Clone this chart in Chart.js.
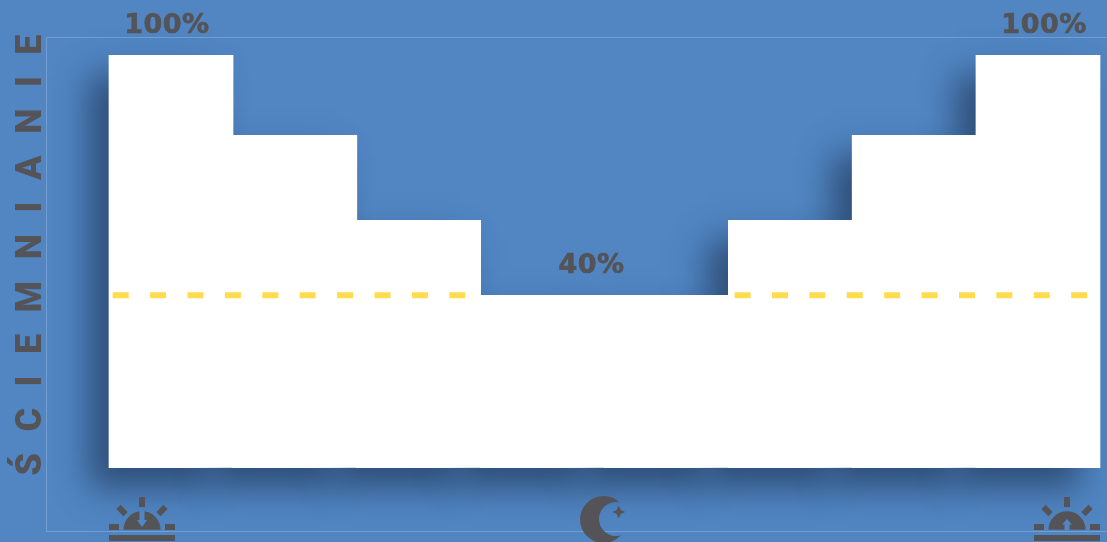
<!DOCTYPE html>
<html><head><meta charset="utf-8">
<style>html,body{margin:0;padding:0;background:#5186c3;overflow:hidden}#w{width:1107px;height:542px;position:relative}</style>
<script src="https://cdn.jsdelivr.net/npm/chart.js@4/dist/chart.umd.min.js"></script>
</head><body><div id="w"><canvas id="c"></canvas></div>
<script>
const categories = ['1','2','3','4','5','6','7','8'];
const dimming = [100, 80.6, 60, 41.8, 41.8, 60, 80.6, 100];
const dashLeft = [{x:0.03,y:41.8},{x:2.88,y:41.8}];
const dashRight = [{x:5.05,y:41.8},{x:7.9,y:41.8}];
const valueLabels = ['100%','40%','100%'];
const labelAt = [0,3,7];
const labelShift = [-4,49,6];
const yTitle = 'ŚCIEMNIANIE';

const INK='#545458', BG='#5186c3';
const framePlugin={id:'frame',beforeDraw(ch){
  const c=ch.ctx;c.save();c.strokeStyle='rgba(255,255,255,.2)';c.lineWidth=1;
  c.beginPath();c.moveTo(1107,37.5);c.lineTo(46.5,37.5);c.lineTo(46.5,531.5);c.lineTo(1107,531.5);c.stroke();c.restore();
  c.letterSpacing='21.5px';
}};
const shadowPlugin={id:'shadow',beforeDatasetsDraw(ch){
  const c=ch.ctx;c.letterSpacing='0px';
  const m=ch.getDatasetMeta(0);c.save();
  c.shadowColor='rgba(38,64,100,.8)';c.shadowBlur=32;c.shadowOffsetX=-20;c.shadowOffsetY=20;
  m.data.forEach(b=>b.draw(c));c.restore();
}};
function sun(c,l,up){
  const cx=l+33;c.fillStyle=INK;
  c.fillRect(cx-3,497,6,10);c.fillRect(l,524,10,6);c.fillRect(l+56,524,10,6);c.fillRect(l,535,66,6);
  [-1,1].forEach(s=>{c.save();c.translate(cx+s*20,510.5);c.rotate(s*Math.PI/4);c.fillRect(-3,-5,6,10);c.restore();});
  c.beginPath();c.arc(cx,529.8,18.6,Math.PI,0);c.closePath();c.fill();
  c.fillStyle=BG;c.beginPath();
  if(up){c.moveTo(cx,519);c.lineTo(cx+5,524.5);c.lineTo(cx+2.5,524.5);c.lineTo(cx+2.5,530);c.lineTo(cx-2.5,530);c.lineTo(cx-2.5,524.5);c.lineTo(cx-5,524.5);}
  else{c.moveTo(cx-2.5,511);c.lineTo(cx+2.5,511);c.lineTo(cx+2.5,520);c.lineTo(cx+5,520);c.lineTo(cx,527);c.lineTo(cx-5,520);c.lineTo(cx-2.5,520);}
  c.closePath();c.fill();
}
function moon(c){
  c.save();c.beginPath();c.rect(560,480,80,62);c.arc(616,519,17,0,Math.PI*2,true);c.clip('evenodd');
  c.fillStyle=INK;c.beginPath();c.arc(603.5,519.5,23.5,0,Math.PI*2);c.fill();c.restore();
  c.fillStyle=INK;c.beginPath();
  const x=618.7,y=512,r=6.5,q=2;
  c.moveTo(x,y-r);c.lineTo(x+q,y-q);c.lineTo(x+r,y);c.lineTo(x+q,y+q);c.lineTo(x,y+r);c.lineTo(x-q,y+q);c.lineTo(x-r,y);c.lineTo(x-q,y-q);c.closePath();c.fill();
}
const overlayPlugin={id:'overlay',afterDatasetsDraw(ch){
  const c=ch.ctx,m=ch.getDatasetMeta(0);c.save();
  c.font='700 27px "DejaVu Sans"';c.letterSpacing='0.5px';c.fillStyle=INK;c.strokeStyle=INK;c.lineWidth=0.7;c.textAlign='center';c.textBaseline='alphabetic';
  valueLabels.forEach((t,i)=>{const b=m.data[labelAt[i]];const y=b.y-22;c.fillText(t,b.x+labelShift[i],y);c.strokeText(t,b.x+labelShift[i],y);});
  c.letterSpacing='0px';
  sun(c,109,false);sun(c,1034,true);moon(c);
  c.restore();
}};
new Chart(document.getElementById('c'),{
  type:'bar',
  data:{labels:categories,datasets:[
    {type:'bar',data:dimming,backgroundColor:'#ffffff',borderWidth:0,barPercentage:1,categoryPercentage:1,grouped:false,order:2},
    {type:'line',xAxisID:'x2',data:dashLeft,borderColor:'#ffdc4d',borderWidth:6,borderDash:[16,21.4],pointRadius:0,tension:0,fill:false,order:1},
    {type:'line',xAxisID:'x2',data:dashRight,borderColor:'#ffdc4d',borderWidth:6,borderDash:[16,21.4],pointRadius:0,tension:0,fill:false,order:1}
  ]},
  options:{responsive:true,maintainAspectRatio:false,animation:false,
    layout:{padding:{top:21,right:7,bottom:74.33,left:0}},
    plugins:{legend:{display:false},tooltip:{enabled:false}},
    scales:{
      x:{grid:{display:false},border:{display:false},ticks:{display:false},afterFit(s){s.height=0;}},
      x2:{type:'linear',display:false,min:0,max:8,offset:false},
      y:{min:0,max:108.33,grid:{display:false},border:{display:false},ticks:{display:false},
        afterFit(s){s.width=109;},
        title:{display:true,text:yTitle,color:INK,font:{family:'Roboto',weight:'900',size:36},padding:{top:10.5,bottom:0}}}
    }},
  plugins:[framePlugin,shadowPlugin,overlayPlugin]
});
</script></body></html>
